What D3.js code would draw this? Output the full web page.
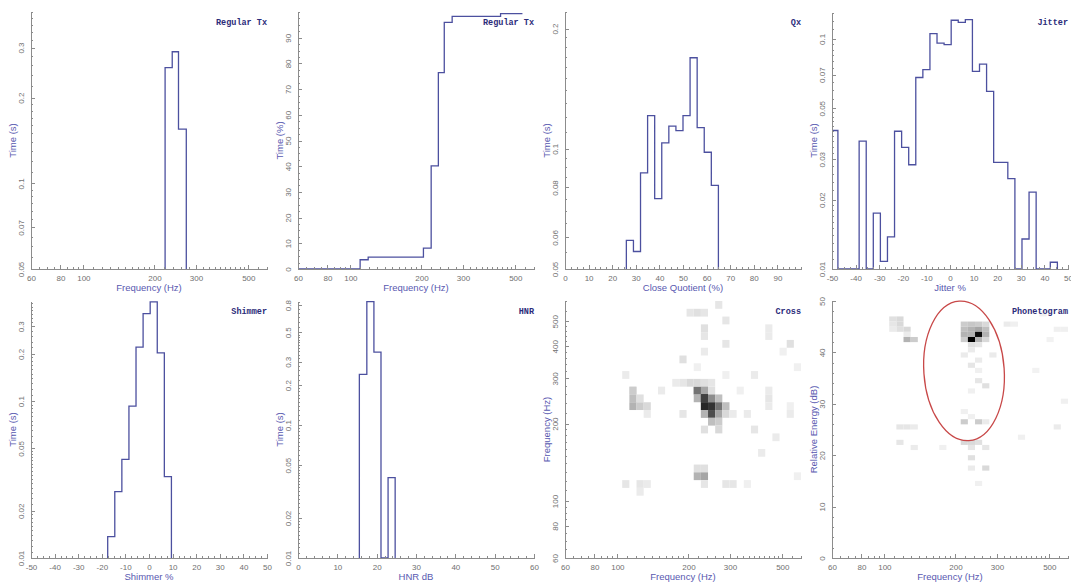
<!DOCTYPE html>
<html>
<head>
<meta charset="utf-8">
<script src="https://cdn.jsdelivr.net/npm/d3@7/dist/d3.min.js"></script>
<style>
  body { margin: 0; background: #fff; }
  svg { display: block; }
  .axis path, .axis line { stroke: #8c8c8c; stroke-width: 1; shape-rendering: crispEdges; }
  .axis text { font-family: "Liberation Sans", Arial, sans-serif; font-size: 8px; fill: #707070; }
  .atitle { font-family: "Liberation Sans", Arial, sans-serif; font-size: 9.5px; fill: #5858b0; }
  .ptitle { font-family: "Liberation Mono", "Courier New", monospace; font-size: 8.5px; font-weight: bold; fill: #2c2c7a; }
  .hist { fill: none; stroke: #4c509f; stroke-width: 1.3; }
</style>
</head>
<body>
<svg width="1071" height="585"></svg>
<script>
// ---- data ----
var freqLabels = [60, 80, 100, 200, 300, 500];

// Regular Tx, time per F0 bin (s)
var f0Edges = [222, 238, 253, 273];
var f0Time = [0.255, 0.29, 0.155];

// Regular Tx, cumulative time (%)
var cumEdges = [60, 110, 119, 204, 220, 236, 250, 270, 433, 536];
var cumPct = [0, 3.6, 4.6, 8.1, 40.1, 76.4, 96, 98.3, 99.4];

// Qx (closed quotient %)
var qxEdges = [26, 29, 32, 35, 38, 41, 44, 47, 50, 53, 56, 59, 62, 65];
var qxTime = [0.059, 0.0553, 0.087, 0.121, 0.075, 0.1035, 0.114, 0.111, 0.121, 0.169, 0.113, 0.098, 0.081];

// Jitter %
var jitterEdges = [-50.5, -47.5, -44.5, -41.5, -38.5, -35.5, -32.5, -29.5, -26.5, -23.5, -20.5, -17.5,
  -14.5, -11.5, -8.5, -5.5, -2.5, 0.5, 3.5, 6.5, 9.5, 12.5, 15.5, 18.5, 21.5, 24.5, 27.5, 30.5,
  33.5, 36.5, 39.5, 42.5, 45.5];
var jitterTime = [0.040, 0, 0, 0, 0.036, 0, 0.0175, 0.0108, 0.0138, 0.0397, 0.0338, 0.0284,
  0.068, 0.0736, 0.1055, 0.096, 0.0945, 0.1206, 0.118, 0.1213, 0.0723, 0.0778, 0.0592, 0.0291,
  0.0291, 0.0247, 0, 0.0135, 0.0216, 0, 0, 0.0107];

// Shimmer %
var shimmerEdges = [-17.5, -14.5, -11.5, -8.5, -5.5, -2.5, 0.5, 3.5, 6.5, 9.5];
var shimmerTime = [0.0137, 0.0265, 0.0426, 0.093, 0.221, 0.361, 0.43, 0.203, 0.033];

// HNR dB
var hnrEdges = [15.6, 17.5, 19.3, 21.1, 22.9, 24.7];
var hnrTime = [0.241, 0.85, 0.355, 0, 0.0403];

// Cross plot: [F0 of cycle n (Hz), F0 of cycle n+1 (Hz), density 0..1]
var crossCells = [
  [213, 276, 0.45], [226, 276, 0.3], [241, 276, 0.15],
  [213, 262, 0.55], [226, 262, 0.7], [241, 262, 0.35], [257, 262, 0.12],
  [213, 245, 0.3], [226, 245, 1.0], [241, 245, 0.75], [257, 245, 0.45], [274, 245, 0.25],
  [226, 229, 0.4], [241, 229, 0.85], [257, 229, 0.8], [274, 229, 0.55], [292, 229, 0.25],
  [226, 216, 0.15], [241, 216, 0.3], [257, 216, 0.7], [274, 216, 0.35], [292, 216, 0.15],
  [257, 205, 0.25], [274, 205, 0.2], [241, 189, 0.12], [277, 189, 0.15],
  [180, 296, 0.08], [192, 296, 0.1], [205, 296, 0.15], [220, 296, 0.15], [235, 296, 0.12], [250, 296, 0.1],
  [277, 584, 0.1], [210, 540, 0.1], [225, 540, 0.12], [240, 540, 0.1], [288, 511, 0.1],
  [237, 467, 0.12], [237, 443, 0.1], [443, 465, 0.08], [443, 440, 0.08], [292, 412, 0.1],
  [538, 418, 0.12], [229, 390, 0.08], [504, 384, 0.06], [184, 363, 0.12], [213, 343, 0.06],
  [281, 320, 0.06], [575, 339, 0.06], [107, 301, 0.08], [380, 301, 0.08], [150, 277, 0.08],
  [447, 277, 0.08], [117, 260, 0.1],
  [114, 262, 0.2], [114, 245, 0.25], [114, 229, 0.3], [122, 229, 0.2], [130, 229, 0.15],
  [122, 245, 0.12], [130, 215, 0.08],
  [185, 215, 0.1], [320, 215, 0.08], [345, 215, 0.08], [384, 189, 0.1], [428, 255, 0.1],
  [428, 240, 0.08], [333, 262, 0.06], [475, 171, 0.08], [418, 151, 0.08], [532, 229, 0.06],
  [545, 212, 0.08],
  [212, 133, 0.12], [228, 133, 0.12], [220, 123, 0.3], [235, 123, 0.35], [241, 113, 0.1],
  [112, 115, 0.1], [122, 115, 0.1], [132, 115, 0.08], [121, 108, 0.08], [285, 115, 0.1],
  [300, 115, 0.1], [354, 115, 0.06], [571, 123, 0.06]
];

// Phonetogram: [F0 (Hz), level (dB), density 0..1]
var phonCells = [
  [218, 45.5, 0.2], [234, 45.5, 0.22], [251, 45.5, 0.2], [269, 45.5, 0.15],
  [218, 44.5, 0.25], [234, 44.5, 0.3], [251, 44.5, 0.35], [269, 44.5, 0.25],
  [218, 43.5, 0.3], [234, 43.5, 0.3], [251, 43.5, 0.95], [269, 43.5, 0.3],
  [218, 42.5, 0.2], [234, 42.5, 1.0], [251, 42.5, 0.3], [269, 42.5, 0.15],
  [234, 41.5, 0.12], [251, 41.5, 0.1],
  [108.6, 46.5, 0.12], [116.4, 46.5, 0.15], [116.4, 45.5, 0.15], [108.6, 45.5, 0.1],
  [116.4, 44.5, 0.12], [124.8, 44.5, 0.15], [108.6, 44.5, 0.08], [124.8, 43.5, 0.08],
  [124.8, 42.5, 0.3], [133.9, 42.5, 0.2],
  [234, 40.5, 0.08], [218, 39.5, 0.08], [251, 38.5, 0.08], [288, 39.5, 0.08], [234, 37.5, 0.1],
  [251, 36.5, 0.06], [251, 34.5, 0.1], [269, 33.5, 0.12], [234, 32.5, 0.06], [218, 28.5, 0.06],
  [234, 27.5, 0.06], [218, 26.5, 0.2], [251, 26.5, 0.2], [269, 26.5, 0.08], [218, 22.5, 0.15],
  [234, 22.5, 0.15], [251, 22.5, 0.12], [234, 21.5, 0.1], [269, 21.5, 0.1], [234, 19.5, 0.12],
  [269, 17.5, 0.15], [234, 17.5, 0.08], [251, 14.5, 0.06],
  [116.4, 25.5, 0.1], [124.8, 25.5, 0.1], [133.9, 25.5, 0.08], [116.4, 22.5, 0.1],
  [133.9, 21.5, 0.08], [177, 21.5, 0.06],
  [331.6, 45.5, 0.08], [355.5, 45.5, 0.06], [470, 47.5, 0.06], [540, 44.5, 0.06],
  [579, 44.5, 0.06], [504, 42.5, 0.05], [579, 30.5, 0.06], [540, 25.5, 0.08],
  [381, 23.5, 0.06], [438, 36.5, 0.05]
];

// voice range ellipse on the phonetogram
var phonRange = { fLo: 147, fHi: 322, dbLo: 22.8, dbHi: 50, tilt: -4 };

// ---- drawing ----
var svg = d3.select("svg");
var W = 236, H = 257;
var ink = d3.scaleLinear().domain([0, 1]).range(["#ffffff", "#000000"]);
var binR = Math.pow(10, 1 / 33);

function logMinor(lo, hi) {
  var out = [];
  for (var k = Math.floor(Math.log10(lo)); Math.pow(10, k) <= hi; k++) {
    for (var j = 10; j < 100; j += j < 20 ? 1 : j < 50 ? 2 : 5) {
      var v = +(j * Math.pow(10, k - 1)).toPrecision(6);
      if (v >= lo && v <= hi) out.push(v);
    }
  }
  return out;
}
function linMinor(lo, hi, step) { return d3.range(lo, hi + step / 2, step); }
function fBin(f) {
  var i = Math.floor(Math.log(f / 60) / Math.log(binR));
  return [60 * Math.pow(binR, i), 60 * Math.pow(binR, i + 1)];
}

function panel(o) {
  var x0 = 31 + 267 * o.col, y0 = 12 + 289 * o.row;
  var g = svg.append("g").attr("transform", "translate(" + x0 + "," + y0 + ")");
  var x = (o.xlog ? d3.scaleLog() : d3.scaleLinear()).domain(o.xdom).range([0, W]);
  var y = (o.ylog ? d3.scaleLog() : d3.scaleLinear()).domain(o.ydom).range([H, 0]);
  var id = "clip" + o.col + o.row;
  g.append("clipPath").attr("id", id).append("rect").attr("width", W).attr("height", H);
  var plot = g.append("g").attr("clip-path", "url(#" + id + ")");
  var fmt = function(d) { return String(d); };

  g.append("g").attr("class", "axis").attr("transform", "translate(0," + H + ")")
    .call(d3.axisBottom(x).tickValues(o.xminor).tickSize(-2).tickSizeOuter(0).tickFormat(""));
  g.append("g").attr("class", "axis").attr("transform", "translate(0," + H + ")")
    .call(d3.axisBottom(x).tickValues(o.xticks).tickSize(-4).tickSizeOuter(0).tickPadding(6).tickFormat(fmt));
  g.append("g").attr("class", "axis")
    .call(d3.axisLeft(y).tickValues(o.yminor).tickSize(-2).tickSizeOuter(0).tickFormat(""));
  var ya = g.append("g").attr("class", "axis")
    .call(d3.axisLeft(y).tickValues(o.yticks).tickSize(-4).tickSizeOuter(0).tickFormat(fmt));
  ya.selectAll("text").attr("x", null).attr("dy", "0.35em").attr("text-anchor", "middle")
    .attr("transform", "translate(-10,0) rotate(-90)");

  g.append("text").attr("class", "atitle").attr("x", W / 2).attr("y", H + 22)
    .attr("text-anchor", "middle").text(o.xtitle);
  g.append("text").attr("class", "atitle").attr("text-anchor", "middle").attr("dy", "0.35em")
    .attr("transform", "translate(-18," + (H / 2) + ") rotate(-90)").text(o.ytitle);
  g.append("text").attr("class", "ptitle").attr("x", W).attr("y", 12.5)
    .attr("text-anchor", "end").text(o.name);
  return { g: g, plot: plot, x: x, y: y };
}

function histPath(p, edges, vals) {
  var ymin = p.y.domain()[0];
  var pts = [[edges[0], ymin]];
  vals.forEach(function(v, i) {
    var vv = v > 0 ? v : ymin;
    pts.push([edges[i], vv], [edges[i + 1], vv]);
  });
  pts.push([edges[edges.length - 1], ymin]);
  p.plot.append("path").attr("class", "hist")
    .attr("d", d3.line().x(function(d) { return p.x(d[0]); }).y(function(d) { return p.y(d[1]); })(pts));
}

var freqMinor = logMinor(60, 600);

// 1. Regular Tx histogram
var p1 = panel({ col: 0, row: 0, name: "Regular Tx", xtitle: "Frequency (Hz)", ytitle: "Time (s)",
  xlog: true, xdom: [60, 600], xticks: freqLabels, xminor: freqMinor,
  ylog: true, ydom: [0.05, 0.4], yticks: [0.05, 0.07, 0.1, 0.2, 0.3], yminor: logMinor(0.05, 0.4) });
histPath(p1, f0Edges, f0Time);

// 2. Regular Tx cumulative
var p2 = panel({ col: 1, row: 0, name: "Regular Tx", xtitle: "Frequency (Hz)", ytitle: "Time (%)",
  xlog: true, xdom: [60, 600], xticks: freqLabels, xminor: freqMinor,
  ydom: [0, 100], yticks: d3.range(0, 100, 10), yminor: linMinor(0, 100, 2.5) });
var cumPts = [];
cumPct.forEach(function(v, i) { cumPts.push([cumEdges[i], v], [cumEdges[i + 1], v]); });
p2.plot.append("path").attr("class", "hist")
  .attr("d", d3.line().x(function(d) { return p2.x(d[0]); }).y(function(d) { return p2.y(d[1]); })(cumPts));

// 3. Qx
var p3 = panel({ col: 2, row: 0, name: "Qx", xtitle: "Close Quotient (%)", ytitle: "Time (s)",
  xdom: [0, 100], xticks: d3.range(0, 100, 10), xminor: linMinor(0, 100, 2.5),
  ylog: true, ydom: [0.05, 0.22], yticks: [0.05, 0.06, 0.08, 0.1, 0.2], yminor: logMinor(0.05, 0.22) });
histPath(p3, qxEdges, qxTime);

// 4. Jitter
var p4 = panel({ col: 3, row: 0, name: "Jitter", xtitle: "Jitter %", ytitle: "Time (s)",
  xdom: [-50, 50], xticks: d3.range(-50, 51, 10), xminor: linMinor(-50, 50, 2.5),
  ylog: true, ydom: [0.01, 0.131], yticks: [0.01, 0.02, 0.03, 0.05, 0.07, 0.1], yminor: logMinor(0.01, 0.131) });
histPath(p4, jitterEdges, jitterTime);

// 5. Shimmer
var p5 = panel({ col: 0, row: 1, name: "Shimmer", xtitle: "Shimmer %", ytitle: "Time (s)",
  xdom: [-50, 50], xticks: d3.range(-50, 51, 10), xminor: linMinor(-50, 50, 2.5),
  ylog: true, ydom: [0.01, 0.435], yticks: [0.01, 0.02, 0.05, 0.1, 0.2, 0.3], yminor: logMinor(0.01, 0.435) });
histPath(p5, shimmerEdges, shimmerTime);

// 6. HNR
var p6 = panel({ col: 1, row: 1, name: "HNR", xtitle: "HNR dB", ytitle: "Time (s)",
  xdom: [0, 60], xticks: d3.range(0, 61, 10), xminor: linMinor(0, 60, 2),
  ylog: true, ydom: [0.01, 0.86], yticks: [0.01, 0.02, 0.05, 0.1, 0.2, 0.3, 0.5, 0.8], yminor: logMinor(0.01, 0.86) });
histPath(p6, hnrEdges, hnrTime);

// 7. Cross
var p7 = panel({ col: 2, row: 1, name: "Cross", xtitle: "Frequency (Hz)", ytitle: "Frequency (Hz)",
  xlog: true, xdom: [60, 600], xticks: freqLabels, xminor: freqMinor,
  ylog: true, ydom: [60, 600], yticks: [60, 80, 100, 200, 300, 400, 500], yminor: freqMinor });
p7.plot.selectAll("rect.cell").data(crossCells).enter().append("rect").attr("class", "cell")
  .each(function(d) {
    var bx = fBin(d[0]), by = fBin(d[1]);
    d3.select(this).attr("x", p7.x(bx[0])).attr("width", p7.x(bx[1]) - p7.x(bx[0]))
      .attr("y", p7.y(by[1])).attr("height", p7.y(by[0]) - p7.y(by[1]));
  })
  .attr("fill", function(d) { return ink(d[2]); });

// 8. Phonetogram
var p8 = panel({ col: 3, row: 1, name: "Phonetogram", xtitle: "Frequency (Hz)", ytitle: "Relative Energy (dB)",
  xlog: true, xdom: [60, 600], xticks: freqLabels, xminor: freqMinor,
  ydom: [0, 50], yticks: d3.range(0, 51, 10), yminor: linMinor(0, 50, 2) });
p8.plot.selectAll("rect.cell").data(phonCells).enter().append("rect").attr("class", "cell")
  .each(function(d) {
    var bx = fBin(d[0]), lo = Math.floor(d[1]);
    d3.select(this).attr("x", p8.x(bx[0])).attr("width", p8.x(bx[1]) - p8.x(bx[0]))
      .attr("y", p8.y(lo + 1)).attr("height", p8.y(lo) - p8.y(lo + 1));
  })
  .attr("fill", function(d) { return ink(d[2]); });

var ex1 = p8.x(phonRange.fLo), ex2 = p8.x(phonRange.fHi);
var ey1 = p8.y(phonRange.dbHi), ey2 = p8.y(phonRange.dbLo);
p8.g.append("ellipse")
  .attr("cx", (ex1 + ex2) / 2).attr("cy", (ey1 + ey2) / 2)
  .attr("rx", (ex2 - ex1) / 2).attr("ry", (ey2 - ey1) / 2)
  .attr("transform", "rotate(" + phonRange.tilt + "," + (ex1 + ex2) / 2 + "," + (ey1 + ey2) / 2 + ")")
  .attr("fill", "none").attr("stroke", "#c84848").attr("stroke-width", 1.3);
</script>
</body>
</html>
